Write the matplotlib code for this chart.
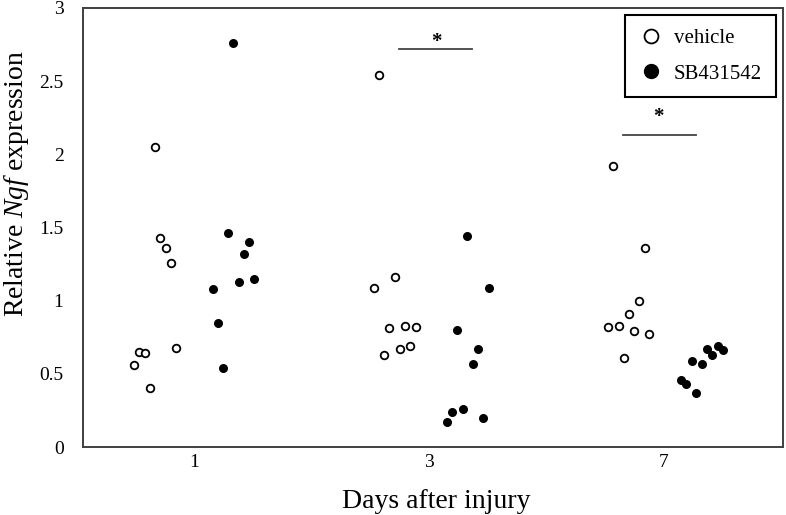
import matplotlib
matplotlib.use("Agg")
import matplotlib.pyplot as plt
from matplotlib.lines import Line2D
import numpy as np

plt.rcParams['font.family'] = ['Liberation Serif', 'DejaVu Serif']
plt.rcParams['mathtext.fontset'] = 'custom'
plt.rcParams['mathtext.it'] = 'Liberation Serif:italic'
plt.rcParams['mathtext.rm'] = 'Liberation Serif'

days = ['1', '3', '7']

# relative Ngf expression
vehicle = [
    [2.05, 1.43, 1.36, 1.26, 0.68, 0.65, 0.64, 0.56, 0.40],
    [2.54, 1.16, 1.09, 0.83, 0.81, 0.82, 0.69, 0.67, 0.63],
    [1.92, 1.36, 1.00, 0.91, 0.83, 0.82, 0.79, 0.77, 0.61],
]
sb431542 = [
    [2.76, 1.46, 1.40, 1.32, 1.15, 1.13, 1.08, 0.85, 0.54],
    [1.44, 1.09, 0.80, 0.67, 0.57, 0.26, 0.24, 0.20, 0.17],
    [0.69, 0.67, 0.66, 0.63, 0.59, 0.57, 0.46, 0.43, 0.37],
]
# horizontal jitter of each point around its day
vehicle_jit = [
    [-0.165, -0.143, -0.120, -0.099, -0.077, -0.233, -0.209, -0.255, -0.187],
    [-0.213, -0.145, -0.235, -0.101, -0.169, -0.057, -0.080, -0.123, -0.190],
    [-0.216, -0.082, -0.106, -0.149, -0.193, -0.237, -0.128, -0.063, -0.170],
]
sb_jit = [
    [0.167, 0.146, 0.234, 0.211, 0.257, 0.191, 0.080, 0.101, 0.123],
    [0.163, 0.254, 0.119, 0.209, 0.186, 0.143, 0.099, 0.231, 0.077],
    [0.229, 0.183, 0.251, 0.206, 0.118, 0.160, 0.072, 0.094, 0.137],
]

fig = plt.figure(figsize=(7.86, 5.15), dpi=100)
ax = fig.add_axes([0.1056, 0.132, 0.8906, 0.8525])

for i in range(len(days)):
    ax.scatter(i + np.array(vehicle_jit[i]), vehicle[i], s=30, facecolors='white',
               edgecolors='black', linewidths=1.3, zorder=3)
    ax.scatter(i + np.array(sb_jit[i]), sb431542[i], s=30, facecolors='black',
               edgecolors='black', linewidths=1.0, zorder=3)

# significance marks
ax.plot([0.874, 1.182], [2.72, 2.72], color='#444444', lw=1.3)
ax.text(1.03, 2.70, '*', ha='center', va='bottom', fontsize=15, fontweight='bold')
ax.plot([1.824, 2.135], [2.134, 2.134], color='#444444', lw=1.3)
ax.text(1.977, 2.19, '*', ha='center', va='bottom', fontsize=15, fontweight='bold')

ax.set_xlim(-0.472, 2.506)
ax.set_ylim(0, 3)
ax.set_xticks(range(len(days)))
ax.set_xticklabels(days)
ax.set_yticks([0, 0.5, 1, 1.5, 2, 2.5, 3])
ax.set_yticklabels(['0', '0.5', '1', '1.5', '2', '2.5', '3'])
ax.tick_params(axis='y', length=0, labelsize=14, pad=14)
ax.tick_params(axis='x', length=0, labelsize=14, pad=5)
for sp in ax.spines.values():
    sp.set_color('#404040')
    sp.set_linewidth(1.4)

ax.set_xlabel('Days after injury', fontsize=20)
ax.xaxis.set_label_coords(0.504, -0.095)
ax.set_ylabel(r'Relative $Ngf$ expression', fontsize=20)
ax.yaxis.set_label_coords(-0.074, 0.6)

handles = [
    Line2D([], [], ls='none', marker='o', ms=10, mfc='white', mec='black', mew=1.3),
    Line2D([], [], ls='none', marker='o', ms=10, mfc='black', mec='black'),
]
leg = ax.legend(handles, ['vehicle', 'SB431542'], loc='upper right', fontsize=15,
                frameon=True, fancybox=False, edgecolor='black', framealpha=1,
                borderaxespad=0.35, handletextpad=0.5, labelspacing=0.75,
                handlelength=1.2, borderpad=0.65)
leg.get_frame().set_linewidth(1.5)

fig.savefig('out.png', dpi=100)
